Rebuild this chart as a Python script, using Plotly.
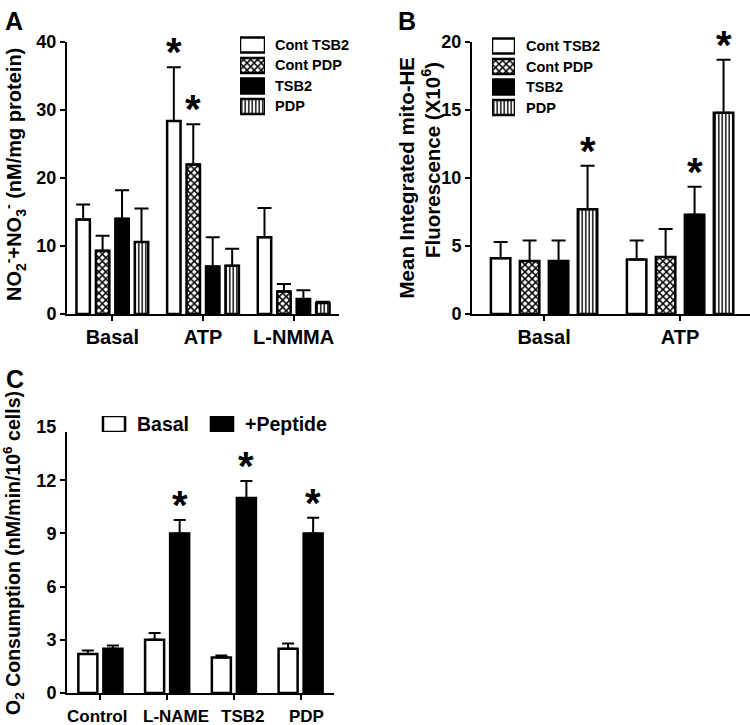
import plotly.graph_objects as go

FONT = "Liberation Sans, Arial, sans-serif"
W, H = 750, 725

# ---------------- Data ----------------
# Panel A: NO2- + NO3- (nM/mg protein)
a_groups = ["Basal", "ATP", "L-NMMA"]
a_series = ["Cont TSB2", "Cont PDP", "TSB2", "PDP"]
a_cont_tsb2 = [13.9, 28.4, 11.3]
a_cont_tsb2_err = [2.2, 7.9, 4.3]
a_cont_pdp = [9.3, 22.0, 3.3]
a_cont_pdp_err = [2.2, 5.9, 1.1]
a_tsb2 = [14.0, 7.0, 2.2]
a_tsb2_err = [4.2, 4.3, 1.3]
a_pdp = [10.6, 7.1, 1.6]
a_pdp_err = [4.9, 2.5, 0.2]
a_sig = [[0, 1, 0], [0, 1, 0], [0, 0, 0], [0, 0, 0]]  # per series, per group

# Panel B: Mean integrated mito-HE fluorescence (x10^6)
b_groups = ["Basal", "ATP"]
b_series = ["Cont TSB2", "Cont PDP", "TSB2", "PDP"]
b_cont_tsb2 = [4.1, 4.0]
b_cont_tsb2_err = [1.2, 1.4]
b_cont_pdp = [3.9, 4.2]
b_cont_pdp_err = [1.5, 2.05]
b_tsb2 = [3.9, 7.3]
b_tsb2_err = [1.5, 2.05]
b_pdp = [7.7, 14.8]
b_pdp_err = [3.2, 3.9]
b_sig = [[0, 0], [0, 0], [0, 1], [1, 1]]

# Panel C: O2 consumption (nM/min/10^6 cells)
c_groups = ["Control", "L-NAME", "TSB2", "PDP"]
c_series = ["Basal", "+Peptide"]
c_basal = [2.2, 3.0, 2.0, 2.5]
c_basal_err = [0.2, 0.38, 0.12, 0.29]
c_peptide = [2.5, 9.0, 11.0, 9.0]
c_peptide_err = [0.18, 0.75, 0.96, 0.88]
c_sig = [[0, 0, 0, 0], [0, 1, 1, 1]]
c_label_shift = [-3, 9, 9, 6]  # px offset of the category labels, as in the original

# ---------------- Styles ----------------
white = dict(color="white")
checker = dict(color="white", pattern=dict(shape="x", fgcolor="black", bgcolor="white", size=5, solidity=0.5, fillmode="replace"))
solid = dict(color="black")
stripes = dict(color="white", pattern=dict(shape="|", fgcolor="black", bgcolor="white", size=3.5, solidity=0.4, fillmode="replace"))
OUTLINE = dict(color="black", width=2.5)

fig = go.Figure()


def add_panel(xa, ya, groups, names, values, errs, fills, sigs, pitch, width, errw):
    n = len(names)
    slot = pitch * n
    xs = list(range(len(groups)))
    for i, (nm, v, e, f) in enumerate(zip(names, values, errs, fills)):
        off = -slot / 2 + i * pitch + (pitch - width) / 2
        marker = dict(f)
        marker["line"] = OUTLINE
        fig.add_trace(go.Bar(
            x=xs, y=v, name=nm, marker=marker, width=width, offset=off,
            error_y=dict(type="data", array=e, arrayminus=[0] * len(e), symmetric=False,
                         color="black", thickness=2, width=errw),
            xaxis=xa, yaxis=ya, showlegend=False,
        ))
        for gi, s in enumerate(sigs[i]):
            if s:
                fig.add_annotation(
                    x=gi + off + width / 2, y=v[gi] + e[gi], xref=xa, yref=ya,
                    text="*", showarrow=False, yanchor="bottom", yshift=-9,
                    font=dict(family=FONT, size=40, color="black", weight="bold"),
                )


def add_legend_column(xa, ya, names, fills, bar_h, fsize, gap):
    # legend drawn as a tiny horizontal bar chart: one swatch per series
    for i, (nm, f) in enumerate(zip(names, fills)):
        marker = dict(f)
        marker["line"] = OUTLINE
        fig.add_trace(go.Bar(orientation="h", y=[i], x=[1], base=0, width=bar_h, marker=marker,
                             xaxis=xa, yaxis=ya, showlegend=False, hoverinfo="skip"))
        fig.add_annotation(x=1, y=i, xref=xa, yref=ya, text=nm, showarrow=False,
                           xanchor="left", yanchor="middle", xshift=gap,
                           font=dict(family=FONT, size=fsize, color="black", weight="bold"))


def add_legend_row(xa, ya, names, fills, bar_w, fsize, gap):
    for i, (nm, f) in enumerate(zip(names, fills)):
        marker = dict(f)
        marker["line"] = OUTLINE
        fig.add_trace(go.Bar(x=[i], y=[1], base=0, width=bar_w, marker=marker,
                             xaxis=xa, yaxis=ya, showlegend=False, hoverinfo="skip"))
        fig.add_annotation(x=i + bar_w / 2, y=0.5, xref=xa, yref=ya, text=nm, showarrow=False,
                           xanchor="left", yanchor="middle", xshift=gap,
                           font=dict(family=FONT, size=fsize, color="black", weight="bold"))


add_panel("x", "y", a_groups, a_series,
          [a_cont_tsb2, a_cont_pdp, a_tsb2, a_pdp],
          [a_cont_tsb2_err, a_cont_pdp_err, a_tsb2_err, a_pdp_err],
          [white, checker, solid, stripes], a_sig, 0.2145, 0.148, 7)
add_panel("x2", "y2", b_groups, b_series,
          [b_cont_tsb2, b_cont_pdp, b_tsb2, b_pdp],
          [b_cont_tsb2_err, b_cont_pdp_err, b_tsb2_err, b_pdp_err],
          [white, checker, solid, stripes], b_sig, 0.213, 0.143, 7)
add_panel("x3", "y3", c_groups, c_series,
          [c_basal, c_peptide], [c_basal_err, c_peptide_err],
          [white, solid], c_sig, 0.375, 0.285, 6)

add_legend_column("x4", "y4", a_series, [white, checker, solid, stripes], 0.72, 14.5, 8)
add_legend_column("x5", "y5", b_series, [white, checker, solid, stripes], 0.72, 14.5, 9)
add_legend_row("x6", "y6", c_series, [white, solid], 0.204, 19.5, 10)

# category labels of panel C (slightly offset, as in the original figure)
for gi, (g, sh) in enumerate(zip(c_groups, c_label_shift)):
    fig.add_annotation(x=gi, y=(H - 716) / H, xref="x3", yref="paper", text=g, showarrow=False,
                       xanchor="center", yanchor="middle", xshift=sh,
                       font=dict(family=FONT, size=17, color="black", weight="bold"))

axis_common = dict(showline=True, linecolor="black", linewidth=2, ticks="outside",
                   tickcolor="black", tickwidth=2, ticklen=5, showgrid=False, zeroline=False,
                   fixedrange=True, automargin=False)
hidden = dict(visible=False, fixedrange=True, automargin=False, showgrid=False, zeroline=False)

tickfont_y = dict(family=FONT, size=18, color="black", weight="bold")


def ydom(top_px, bot_px):
    return [(H - bot_px) / H, (H - top_px) / H]


fig.update_layout(
    template="none",
    width=W, height=H, margin=dict(l=0, r=0, t=0, b=0, pad=0),
    paper_bgcolor="white", plot_bgcolor="white", barmode="overlay",
    font=dict(family=FONT, color="black"), showlegend=False,
    xaxis=dict(domain=[67 / W, 339 / W], range=[-0.5, 2.5], tickvals=[0, 1, 2], ticktext=a_groups,
               tickfont=dict(family=FONT, size=20, color="black", weight="bold"), anchor="y",
               ticklabelstandoff=-1, **axis_common),
    yaxis=dict(domain=ydom(42, 314), range=[0, 40], tickvals=[0, 10, 20, 30, 40],
               tickfont=tickfont_y, anchor="x", **axis_common),
    xaxis2=dict(domain=[472 / W, 1.0], range=[-0.53, 1.514], tickvals=[0, 1], ticktext=b_groups,
                tickfont=dict(family=FONT, size=20, color="black", weight="bold"), anchor="y2",
                ticklabelstandoff=-1, **axis_common),
    yaxis2=dict(domain=ydom(42, 314), range=[0, 20], tickvals=[0, 5, 10, 15, 20],
                tickfont=tickfont_y, anchor="x2", **axis_common),
    xaxis3=dict(domain=[67 / W, 334 / W], range=[-0.5, 3.5], tickvals=[0, 1, 2, 3],
                showticklabels=False, anchor="y3", **axis_common),
    yaxis3=dict(domain=ydom(427, 693), range=[0, 15], tickvals=[0, 3, 6, 9, 12, 15],
                tickfont=tickfont_y, anchor="x3", **axis_common),
    # legend swatch axes
    xaxis4=dict(domain=[240 / W, 265 / W], range=[0, 1], anchor="y4", **hidden),
    yaxis4=dict(domain=ydom(34.75, 116.75), range=[3.5, -0.5], anchor="x4", **hidden),
    xaxis5=dict(domain=[492 / W, 515 / W], range=[0, 1], anchor="y5", **hidden),
    yaxis5=dict(domain=ydom(35.75, 117.75), range=[3.5, -0.5], anchor="x5", **hidden),
    xaxis6=dict(domain=[60 / W, 276 / W], range=[-0.5, 1.5], anchor="y6", **hidden),
    yaxis6=dict(domain=ydom(416, 432), range=[0, 1], anchor="x6", **hidden),
)

lab = dict(family=FONT, size=25, color="black", weight="bold")
fig.add_annotation(x=3 / W, y=1 - 5 / H, xref="paper", yref="paper", text="A", showarrow=False,
                   xanchor="left", yanchor="top", font=lab)
fig.add_annotation(x=396 / W, y=1 - 5 / H, xref="paper", yref="paper", text="B", showarrow=False,
                   xanchor="left", yanchor="top", font=lab)
fig.add_annotation(x=4 / W, y=1 - 363 / H, xref="paper", yref="paper", text="C", showarrow=False,
                   xanchor="left", yanchor="top", font=lab)

ttl = dict(family=FONT, size=20, color="black", weight="bold")
fig.add_annotation(x=14 / W, y=(H - 175) / H, xref="paper", yref="paper",
                   text="NO<sub>2</sub><sup>-</sup>+NO<sub>3</sub><sup>-</sup> (nM/mg protein)",
                   textangle=-90, showarrow=False, xanchor="center", yanchor="middle", font=ttl)
ttlb = dict(family=FONT, size=20.5, color="black", weight="bold")
fig.add_annotation(x=406 / W, y=(H - 56) / H, xref="paper", yref="paper",
                   text="Mean Integrated mito-HE",
                   textangle=-90, showarrow=False, xanchor="center", yanchor="top", font=ttlb)
fig.add_annotation(x=431 / W, y=(H - 60) / H, xref="paper", yref="paper",
                   text="Fluorescence (X10<sup>6</sup>)",
                   textangle=-90, showarrow=False, xanchor="center", yanchor="top", font=ttlb)
fig.add_annotation(x=13 / W, y=(H - 553) / H, xref="paper", yref="paper",
                   text="O<sub>2</sub> Consumption (nM/min/10<sup>6</sup> cells)",
                   textangle=-90, showarrow=False, xanchor="center", yanchor="middle",
                   font=dict(family=FONT, size=19.5, color="black", weight="bold"))

fig.write_html("out.html", config={"displayModeBar": False, "staticPlot": True},
               post_script="document.body.style.margin='0px';")
